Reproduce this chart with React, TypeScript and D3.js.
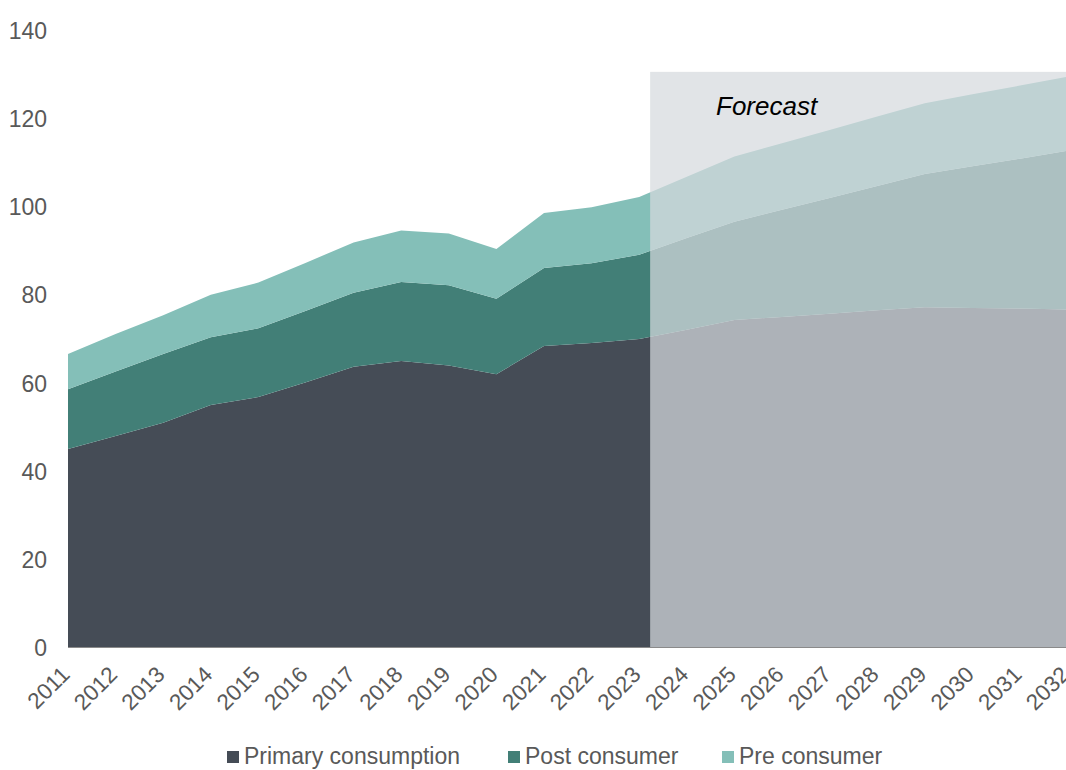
import React from "react";
import * as d3 from "d3";

// Annual consumption by source, 2011–2032 (2024 onward is forecast)
const years = [
  2011, 2012, 2013, 2014, 2015, 2016, 2017, 2018, 2019, 2020, 2021,
  2022, 2023, 2024, 2025, 2026, 2027, 2028, 2029, 2030, 2031, 2032,
];
const primaryConsumption = [
  44.9, 47.9, 50.9, 54.9, 56.7, 60.1, 63.6, 64.9, 63.9, 61.9, 68.3,
  69.0, 69.9, 72.0, 74.2, 74.9, 75.6, 76.4, 77.1, 76.9, 76.8, 76.6,
];
const postConsumer = [
  13.6, 14.6, 15.6, 15.4, 15.6, 16.2, 16.8, 17.9, 18.2, 17.1, 17.7,
  18.1, 19.1, 20.8, 22.3, 24.3, 26.3, 28.2, 30.2, 32.2, 34.0, 36.0,
];
const preConsumer = [
  8.0, 8.5, 8.8, 9.6, 10.4, 10.9, 11.4, 11.7, 11.7, 11.3, 12.5,
  12.7, 13.1, 13.9, 14.8, 15.1, 15.4, 15.8, 16.1, 16.3, 16.6, 16.8,
];
const yTicks = [0, 20, 40, 60, 80, 100, 120, 140];

const seriesKeys = ["primary", "post", "pre"] as const;
const seriesNames = ["Primary consumption", "Post consumer", "Pre consumer"];
const seriesColors = ["#454c56", "#427f77", "#84bfb8"];

// Forecast band: starts just after the 2023 point, rises to ~130.5
const forecastStart = 2023.23;
const forecastTop = 130.5;

const W = 1066;
const H = 770;
const FONT = "'Liberation Sans', Arial, Helvetica, sans-serif";

export default function App() {
  const x = d3.scaleLinear().domain([2011, 2032]).range([68, 1067.6]);
  const y = d3.scaleLinear().domain([0, 140]).range([647, 30]);

  const rows = years.map((yr, i) => ({
    year: yr,
    primary: primaryConsumption[i],
    post: postConsumer[i],
    pre: preConsumer[i],
  }));
  const stacked = d3.stack<any>().keys(seriesKeys as unknown as string[])(rows);

  const area = d3
    .area<any>()
    .x((d) => x(d.data.year))
    .y0((d) => y(d[0]))
    .y1((d) => y(d[1]))
    .curve(d3.curveLinear);

  const legendX = [227, 508, 722];

  return (
    <svg
      width={W}
      height={H}
      style={{ position: "absolute", left: 0, top: 0, background: "#fff" }}
      fontFamily={FONT}
    >
      {stacked.map((s, i) => (
        <path key={s.key} d={area(s) || ""} fill={seriesColors[i]} />
      ))}

      {/* Forecast overlay */}
      <rect
        x={x(forecastStart)}
        y={y(forecastTop)}
        width={x(2032) - x(forecastStart) + 2}
        height={y(0) - y(forecastTop)}
        fill="#d5d9de"
        fillOpacity={0.72}
      />
      <text x={716} y={115} fontSize={26} fontStyle="italic" fill="#000">
        Forecast
      </text>

      {/* Baseline */}
      <line
        x1={x(2011)}
        x2={W}
        y1={y(0) + 0.5}
        y2={y(0) + 0.5}
        stroke="#8a8a8a"
        strokeWidth={1}
      />

      {/* Y axis labels */}
      {yTicks.map((t) => (
        <text
          key={t}
          transform={`translate(47,${y(t)}) scale(1,1.08)`}
          dy="0.36em"
          textAnchor="end"
          fontSize={23}
          fill="#595959"
        >
          {t}
        </text>
      ))}

      {/* X axis labels */}
      {years.map((yr) => (
        <text
          key={yr}
          transform={`translate(${x(yr) + 3},${676}) rotate(-45)`}
          textAnchor="end"
          fontSize={22.5}
          fill="#595959"
        >
          {yr}
        </text>
      ))}

      {/* Legend */}
      {seriesNames.map((name, i) => (
        <g key={name} transform={`translate(${legendX[i]},0)`}>
          <rect x={0} y={751} width={12} height={12} fill={seriesColors[i]} />
          <text x={17} y={764} fontSize={23} fill="#595959">
            {name}
          </text>
        </g>
      ))}
    </svg>
  );
}
